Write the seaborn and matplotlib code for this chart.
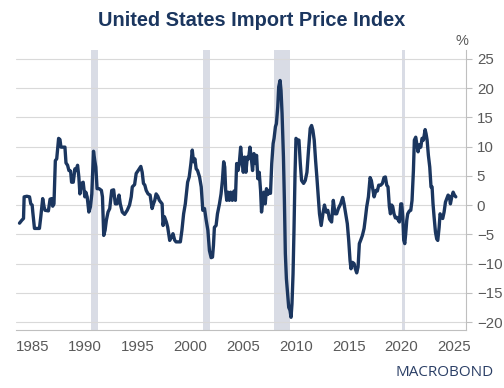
import numpy as np
import pandas as pd
import matplotlib
matplotlib.use("Agg")
import matplotlib.pyplot as plt
import seaborn as sns

# decimal year / y/y % change (rows of years and values line up)
years = [
    1983.77, 1983.99, 1984.15, 1984.21, 1984.47, 1984.72, 1984.84, 1984.97, 1985.03, 1985.19,
    1985.66, 1985.79, 1985.97, 1986.10, 1986.19, 1986.51, 1986.67, 1986.82, 1986.92, 1987.04,
    1987.17, 1987.30, 1987.48, 1987.61, 1987.70, 1987.83, 1988.08, 1988.18, 1988.33, 1988.46,
    1988.62, 1988.71, 1988.87, 1989.03, 1989.12, 1989.28, 1989.40, 1989.50, 1989.65, 1989.81,
    1989.97, 1990.06, 1990.19, 1990.35, 1990.50, 1990.63, 1990.79, 1990.91, 1991.01, 1991.13,
    1991.32, 1991.54, 1991.64, 1991.76, 1991.89, 1992.01, 1992.17, 1992.33, 1992.52, 1992.70,
    1992.86, 1993.02, 1993.21, 1993.33, 1993.52, 1993.74, 1993.99, 1994.21, 1994.37, 1994.47,
    1994.69, 1994.84, 1995.03, 1995.28, 1995.41, 1995.53, 1995.66, 1995.79, 1995.97, 1996.16,
    1996.35, 1996.48, 1996.60, 1996.73, 1996.89, 1997.04, 1997.30, 1997.39, 1997.52, 1997.70,
    1997.83, 1998.02, 1998.18, 1998.33, 1998.49, 1998.62, 1998.87, 1999.03, 1999.18, 1999.34,
    1999.50, 1999.72, 1999.87, 2000.03, 2000.16, 2000.28, 2000.41, 2000.53, 2000.66, 2000.85,
    2001.01, 2001.16, 2001.32, 2001.48, 2001.64, 2001.79, 2001.95, 2002.08, 2002.17, 2002.26,
    2002.42, 2002.55, 2002.74, 2002.89, 2003.02, 2003.14, 2003.24, 2003.33, 2003.43, 2003.55,
    2003.68, 2003.80, 2003.96, 2004.12, 2004.25, 2004.37, 2004.50, 2004.62, 2004.75, 2004.87,
    2005.00, 2005.13, 2005.25, 2005.38, 2005.50, 2005.63, 2005.75, 2005.88, 2006.01, 2006.13,
    2006.26, 2006.38, 2006.51, 2006.64, 2006.73, 2006.82, 2006.95, 2007.08, 2007.20, 2007.33,
    2007.45, 2007.58, 2007.70, 2007.83, 2007.92, 2008.05, 2008.14, 2008.27, 2008.36, 2008.49,
    2008.58, 2008.68, 2008.81, 2008.90, 2008.99, 2009.09, 2009.21, 2009.31, 2009.43, 2009.53,
    2009.62, 2009.72, 2009.81, 2009.91, 2010.00, 2010.13, 2010.28, 2010.41, 2010.53, 2010.72,
    2010.88, 2011.04, 2011.19, 2011.35, 2011.48, 2011.60, 2011.73, 2011.86, 2011.98, 2012.11,
    2012.23, 2012.39, 2012.55, 2012.70, 2012.86, 2013.02, 2013.18, 2013.38, 2013.54, 2013.70,
    2013.86, 2014.02, 2014.24, 2014.43, 2014.56, 2014.72, 2014.87, 2015.00, 2015.13, 2015.22,
    2015.35, 2015.51, 2015.63, 2015.76, 2015.89, 2016.01, 2016.14, 2016.30, 2016.46, 2016.58,
    2016.71, 2016.87, 2017.03, 2017.15, 2017.28, 2017.41, 2017.59, 2017.72, 2017.85, 2018.04,
    2018.20, 2018.35, 2018.48, 2018.61, 2018.73, 2018.86, 2018.96, 2019.08, 2019.18, 2019.30,
    2019.43, 2019.56, 2019.72, 2019.81, 2019.94, 2020.03, 2020.13, 2020.22, 2020.32, 2020.41,
    2020.51, 2020.60, 2020.76, 2020.89, 2021.01, 2021.14, 2021.23, 2021.36, 2021.46, 2021.58,
    2021.71, 2021.84, 2021.96, 2022.09, 2022.25, 2022.34, 2022.44, 2022.56, 2022.69, 2022.81,
    2022.91, 2023.00, 2023.10, 2023.23, 2023.35, 2023.45, 2023.58, 2023.67, 2023.80, 2023.92,
    2024.05, 2024.18, 2024.30, 2024.43, 2024.56, 2024.65, 2024.78, 2024.91, 2025.03, 2025.16,
]
values = [
    -3.1, -2.6, -2.3, 1.4, 1.5, 1.4, 0.2, 0.0, -1.2, -4.0,
    -4.0, -2.0, 1.1, -0.3, -0.9, -1.0, 1.0, 1.1, -0.2, 0.2,
    7.6, 7.9, 11.4, 11.2, 9.9, 9.9, 9.9, 7.2, 6.8, 5.9,
    5.8, 3.9, 3.9, 6.2, 5.9, 6.8, 4.8, 1.9, 3.7, 3.9,
    1.4, 2.2, 1.4, -1.2, -0.3, 1.9, 9.2, 7.6, 6.5, 2.8,
    2.8, 2.5, 1.4, -5.2, -4.3, -2.6, -1.2, -0.6, 2.5, 2.6,
    0.2, 0.2, 1.7, 0.2, -1.2, -1.6, -0.9, 0.0, 1.4, 3.1,
    3.5, 5.4, 5.9, 6.6, 5.6, 3.7, 3.4, 2.5, 1.9, 1.7,
    -0.6, 0.2, 0.8, 1.9, 1.5, 0.8, 0.2, -3.5, -2.0, -2.9,
    -3.8, -6.05, -5.5, -4.9, -6.0, -6.3, -6.3, -6.3, -4.3, -1.5,
    0.2, 3.9, 4.8, 7.1, 9.4, 7.4, 7.9, 6.2, 5.9, 4.8,
    3.1, -0.9, -0.6, -2.6, -4.3, -7.8, -9.0, -8.9, -6.9, -3.8,
    -3.5, -1.5, 0.2, 1.9, 4.2, 7.4, 6.5, 2.5, 0.8, 2.2,
    0.8, 2.2, 0.8, 2.4, 0.8, 7.1, 5.9, 7.1, 9.9, 7.6,
    5.6, 8.2, 5.6, 8.2, 7.9, 9.9, 8.2, 5.9, 8.8, 7.1,
    8.5, 4.5, 5.6, 2.5, -1.2, 0.2, 2.2, 0.2, 2.8, 1.8,
    2.5, 2.0, 7.1, 10.5, 11.4, 13.4, 13.9, 16.8, 20.2, 21.3,
    19.6, 15.6, 8.2, 0.8, -8.3, -12.6, -15.2, -17.5, -18.0, -19.2,
    -16.9, -11.8, -4.3, 5.4, 11.4, 11.1, 11.1, 7.1, 4.2, 3.7,
    4.2, 5.6, 9.4, 13.1, 13.6, 12.8, 11.1, 7.6, 4.8, 1.4,
    -1.5, -3.5, -1.5, 0.0, -1.2, -0.9, -2.4, -2.9, 0.8, -1.5,
    -1.5, -0.6, 0.2, 1.3, 0.2, -1.5, -3.2, -6.0, -9.5, -10.9,
    -9.8, -10.0, -10.9, -11.6, -10.6, -6.6, -6.0, -5.2, -4.0, -2.3,
    -0.3, 1.4, 4.7, 4.2, 2.8, 1.4, 2.5, 2.4, 3.4, 3.4,
    3.7, 4.7, 4.8, 3.4, 3.1, -0.3, -1.5, 0.0, -0.3, -1.5,
    -2.2, -2.1, -2.6, -2.9, 0.2, 0.2, -2.0, -6.0, -6.6, -4.9,
    -2.6, -1.5, -1.0, -0.9, 0.8, 5.9, 11.1, 11.6, 10.5, 9.1,
    10.3, 9.9, 11.4, 11.1, 12.9, 12.2, 11.1, 8.5, 6.5, 3.1,
    3.1, 0.2, -2.0, -4.6, -5.8, -6.05, -3.8, -1.5, -2.0, -2.3,
    -1.2, 0.5, 1.1, 1.7, 1.4, 0.2, 1.4, 2.2, 1.7, 1.4,
]

# US recessions (start, end) in decimal years
rec_start = [1990.55, 2001.2, 2007.95, 2020.1]
rec_end = [1991.2, 2001.85, 2009.45, 2020.3]

df = pd.DataFrame({"year": years, "value": values})

navy = "#1b365f"
grey_text = "#595959"

sns.set_style("white")
plt.rcParams["font.family"] = ["Liberation Sans", "DejaVu Sans"]

fig = plt.figure(figsize=(5.04, 3.88), dpi=100)
ax = fig.add_axes([0.032, 0.149, 0.892, 0.722])

for s, e in zip(rec_start, rec_end):
    ax.axvspan(s, e, color="#d9dce5", lw=0, zorder=0)

sns.lineplot(data=df, x="year", y="value", sort=False, color=navy, lw=2.4, ax=ax, zorder=3)

ax.set_xlim(1983.45, 2026.1)
ax.set_ylim(-21.4, 26.5)
ax.set_xticks(range(1985, 2026, 5))
ax.set_yticks(range(-20, 26, 5))
ax.yaxis.tick_right()
ax.grid(axis="y", color="#d9d9d9", lw=0.8)
ax.set_axisbelow(True)
ax.set_xlabel("")
ax.set_ylabel("")

for side in ["top", "left"]:
    ax.spines[side].set_visible(False)
for side in ["bottom", "right"]:
    ax.spines[side].set_color("#bfbfbf")
    ax.spines[side].set_linewidth(0.8)

ax.tick_params(axis="both", colors="#bfbfbf", labelcolor=grey_text, labelsize=10.8, length=4, width=0.8)
ax.tick_params(axis="x", pad=3)
ax.tick_params(axis="y", pad=4)

fig.text(0.5, 0.948, "United States Import Price Index", ha="center", va="center",
         fontsize=14.4, fontweight="bold", color=navy)
fig.text(0.917, 0.895, "%", ha="center", va="center", fontsize=10.5, color=grey_text)
fig.text(0.883, 0.04, "MACROBOND", ha="center", va="center", fontsize=11,
         family=["Open Sans", "DejaVu Sans"], color="#2b3f66")

fig.savefig("out.png", dpi=100)
